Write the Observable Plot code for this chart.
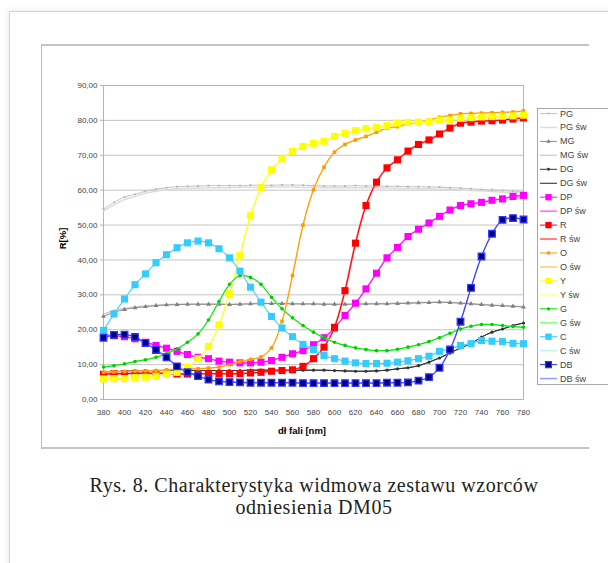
<!DOCTYPE html>
<html>
<head>
<meta charset="utf-8">
<script src="https://cdn.jsdelivr.net/npm/d3@7"></script>
<script src="https://cdn.jsdelivr.net/npm/@observablehq/plot@0.6"></script>
<style>
  html, body { margin: 0; padding: 0; background: #fff; }
  #page { position: relative; width: 608px; height: 563px; overflow: hidden; font-family: "Liberation Sans", Arial, sans-serif; }
  #outer { position: absolute; left: 9px; top: 11px; width: 620px; height: 580px; border-left: 1px solid #d4d4d4; border-top: 1px solid #d4d4d4; box-shadow: -2px -2px 4px rgba(0,0,0,0.06); }
  #inner { position: absolute; left: 41px; top: 44px; width: 547px; height: 401px; border-left: 1px solid #bdbdbd; border-top: 2px solid #c4c4c4; border-bottom: 2px solid #c4c4c4; }
  #plot { position: absolute; left: 0; top: 0; }
  #legend { position: absolute; left: 537px; top: 108px; }
  .axtitle { position: absolute; font-weight: bold; font-size: 9.5px; color: #000; }
  #caption { position: absolute; left: 0; width: 628px; top: 474px; text-align: center; font-family: "Liberation Serif", "Times New Roman", serif; font-size: 20px; letter-spacing: 0.55px; line-height: 22px; color: #222; }
</style>
</head>
<body>
<div id="page">
  <div id="outer"></div>
  <div id="inner"></div>
  <div id="plot"></div>
  <div class="axtitle" style="left:278px; top:425px;">dł fali [nm]</div>
  <div class="axtitle" style="left:52px; top:233px; transform: rotate(-90deg); transform-origin: 50% 50%;">R[%]</div>
  <div id="legend"></div>
  <div id="caption">Rys. 8. Charakterystyka widmowa zestawu wzorców<br>odniesienia DM05</div>
</div>
<script>
// wavelength categories (nm)
const wavelengths = [380,390,400,410,420,430,440,450,460,470,480,490,500,510,520,530,540,550,560,570,580,590,600,610,620,630,640,650,660,670,680,690,700,710,720,730,740,750,760,770,780];
const xTicks = [380,400,420,440,460,480,500,520,540,560,580,600,620,640,660,680,700,720,740,760,780];
const yTicks = [0,10,20,30,40,50,60,70,80,90];

// measured reflectance R[%]
const PG = [54.6,56.5,58.0,58.8,59.7,60.3,60.7,61.0,61.1,61.2,61.3,61.3,61.3,61.3,61.4,61.4,61.4,61.5,61.5,61.4,61.3,61.2,61.2,61.2,61.3,61.2,61.2,61.1,61.1,61.0,61.0,60.9,60.9,60.7,60.6,60.4,60.2,60.1,59.9,59.7,59.5];
const PG_sw = [54.0,55.8,57.3,58.2,59.1,59.7,60.1,60.4,60.5,60.6,60.7,60.7,60.7,60.8,60.8,60.8,60.9,60.9,60.9,60.8,60.8,60.7,60.7,60.7,60.7,60.7,60.6,60.6,60.5,60.5,60.4,60.4,60.3,60.2,60.1,59.9,59.8,59.6,59.4,59.3,59.1];
const MG = [23.8,25.0,25.8,26.3,26.6,26.9,27.1,27.2,27.3,27.3,27.3,27.3,27.2,27.3,27.4,27.5,27.5,27.5,27.4,27.4,27.4,27.3,27.3,27.3,27.3,27.4,27.4,27.4,27.5,27.6,27.7,27.8,27.9,27.8,27.6,27.4,27.2,27.0,26.9,26.7,26.5];
const MG_sw = [24.4,25.5,26.1,26.5,26.8,27.0,27.2,27.3,27.3,27.4,27.4,27.4,27.3,27.4,27.5,27.5,27.6,27.5,27.5,27.4,27.4,27.4,27.3,27.3,27.4,27.4,27.5,27.5,27.6,27.7,27.8,27.8,27.9,27.8,27.7,27.5,27.3,27.1,26.9,26.8,26.6];
const DG = [7.8,8.0,8.1,8.2,8.3,8.3,8.3,8.3,8.3,8.3,8.3,8.3,8.3,8.3,8.4,8.4,8.4,8.4,8.4,8.4,8.4,8.4,8.3,8.2,8.1,8.1,8.2,8.4,8.8,9.1,9.7,10.7,11.9,13.3,14.8,16.0,17.9,19.3,20.2,21.2,21.9];
const DP = [18.5,18.3,18.0,17.4,16.4,15.5,14.7,13.8,12.9,12.1,11.7,11.0,10.7,10.5,10.5,10.7,11.2,12.1,13.1,14.0,15.7,17.7,20.5,24.1,27.6,31.7,36.2,40.6,43.6,46.7,48.8,50.6,52.5,54.3,55.6,56.1,56.5,57.1,57.5,58.2,58.5];
const R = [7.2,7.4,7.4,7.5,7.5,7.5,7.5,7.3,7.3,7.3,7.4,7.4,7.4,7.4,7.6,7.8,8.1,8.3,8.5,9.5,11.7,15.0,20.7,31.2,44.8,55.6,62.3,66.4,68.7,71.2,73.1,74.4,76.1,77.8,79.2,79.5,79.8,79.9,80.1,80.4,80.7];
const O = [7.8,7.9,8.0,8.1,8.2,8.3,8.5,8.6,8.7,8.8,9.0,9.3,10.0,10.8,11.5,12.2,14.8,22.4,35.5,50.0,60.1,66.6,70.9,73.1,74.4,75.4,76.6,77.8,78.2,79.0,79.5,80.1,80.9,81.4,81.9,82.0,82.1,82.2,82.3,82.4,82.7];
const Y = [5.9,6.0,6.0,6.3,6.4,6.7,7.2,7.8,9.3,11.7,15.2,21.4,30.3,41.3,52.7,60.7,65.8,69.0,71.1,72.5,73.4,74.0,75.4,76.3,77.1,77.6,78.0,78.5,79.2,79.4,79.5,79.6,80.1,80.1,80.6,80.8,81.0,81.1,81.2,81.3,81.5];
const G = [9.3,9.7,10.2,10.9,11.4,12.1,13.1,14.5,16.4,18.8,22.8,28.1,33.0,35.5,35.0,33.0,29.3,26.0,23.4,21.2,19.3,17.7,16.4,15.5,14.8,14.3,14.0,14.0,14.4,15.0,15.7,16.6,17.7,19.0,20.2,21.0,21.5,21.5,21.2,20.9,20.7];
const C = [19.8,24.5,28.8,32.9,36.0,39.2,41.5,43.5,44.9,45.4,44.9,43.2,40.6,36.8,32.2,27.9,23.8,20.5,18.0,15.8,14.3,12.6,11.7,11.0,10.5,10.3,10.3,10.4,10.7,11.1,11.7,12.4,13.8,14.5,15.5,16.0,16.9,16.7,16.6,16.1,16.0];
const DB = [17.7,18.5,18.6,17.9,16.2,14.2,12.1,9.5,7.8,6.7,5.7,5.2,5.0,4.9,4.8,4.8,4.8,4.8,4.8,4.7,4.7,4.7,4.7,4.7,4.7,4.7,4.7,4.8,4.8,4.9,5.4,6.4,9.1,14.3,22.3,32.0,41.0,47.5,51.5,52.0,51.6];

// certificate ("św") curves coincide with measured ones except where visibly offset
const DG_sw = DG, DP_sw = DP, R_sw = R, O_sw = O, Y_sw = Y, G_sw = G, C_sw = C, DB_sw = DB;

const seriesNames = ["PG","MG","DG","DP","R","O","Y","G","C","DB"];
const measured = [PG, MG, DG, DP, R, O, Y, G, C, DB];
const certified = [PG_sw, MG_sw, DG_sw, DP_sw, R_sw, O_sw, Y_sw, G_sw, C_sw, DB_sw];

// styles
const lineColors = ["#c4c4c4","#8c8c8c","#333333","#ff00ff","#ff0000","#ff9900","#ffff00","#00dd00","#33ccff","#3333ff"];
const swColors   = ["#dcdcdc","#cfcfcf","#222222","#ff66ff","#ff8080","#ffcc66","#ffff99","#88ff88","#bff0f5","#9999ff"];
const swWidths   = [1.5,1.5,1,1.5,2,1.5,1.5,1.5,1.5,1.5];
const symbols    = ["square","triangle","circle","square","square","square","square","circle","square","square"];
const symR       = [1.1,1.8,1.6,4.0,4.0,2.0,4.0,1.8,4.0,3.7];
const symFill    = ["#b8b8b8","#808080","#333333","#ff00ff","#ff0000","#ff9900","#ffff00","#00cc00","#33ccff","#000080"];
const symStroke  = ["none","none","none","none","none","none","none","none","none","#3333ff"];

const marks = [
  Plot.gridY(yTicks, {stroke: "#c4c4c4", strokeOpacity: 1}),
  Plot.frame({stroke: "#b4b4b4"})
];
seriesNames.forEach((name, i) => {
  const rowsM = wavelengths.map((w, j) => ({x: w, y: measured[i][j]}));
  const rowsS = wavelengths.map((w, j) => ({x: w, y: certified[i][j]}));
  marks.push(Plot.line(rowsS, {x: "x", y: "y", stroke: swColors[i], strokeWidth: swWidths[i], curve: "catmull-rom"}));
  marks.push(Plot.line(rowsM, {x: "x", y: "y", stroke: lineColors[i], strokeWidth: 1, curve: "catmull-rom"}));
  marks.push(Plot.dot(rowsM, {x: "x", y: "y", symbol: () => symbols[i], r: symR[i], fill: symFill[i], stroke: symStroke[i], strokeWidth: 1.3}));
});
const fmt = d => d3.format(".2f")(d).replace(".", ",");
marks.push(Plot.axisY(yTicks, {tickFormat: fmt, tickSize: 3, tickPadding: 3, fontSize: 8, color: "#444", stroke: "#b4b4b4", label: null}));
marks.push(Plot.axisX(xTicks, {tickSize: 0, tickPadding: 10, fontSize: 8, color: "#444", label: null}));

const chart = Plot.plot({
  width: 608, height: 450,
  marginLeft: 103, marginRight: 85, marginTop: 85, marginBottom: 51,
  x: {domain: [380, 780]},
  y: {domain: [0, 90]},
  style: {background: "transparent", fontFamily: "Liberation Sans, Arial, sans-serif"},
  marks
});
document.getElementById("plot").appendChild(chart);

// legend
const legendLabels = [];
seriesNames.forEach(n => { legendLabels.push(n); legendLabels.push(n + " św"); });
const lg = d3.select("#legend").append("svg").attr("width", 71).attr("height", 277)
  .style("font-family", "Liberation Sans, Arial, sans-serif");
lg.append("rect").attr("x", 0.5).attr("y", 0.5).attr("width", 80).attr("height", 276)
  .attr("fill", "#fff").attr("stroke", "#a8a8a8");
const symMap = {square: d3.symbolSquare, triangle: d3.symbolTriangle, circle: d3.symbolCircle};
legendLabels.forEach((lab, k) => {
  const i = Math.floor(k / 2), sw = k % 2 === 1;
  const yy = 5.5 + k * 13.95;
  lg.append("line").attr("x1", 3).attr("x2", 20).attr("y1", yy).attr("y2", yy)
    .attr("stroke", sw ? swColors[i] : lineColors[i]).attr("stroke-width", sw ? swWidths[i] : 1);
  if (!sw) {
    lg.append("path").attr("transform", `translate(11.5,${yy})`)
      .attr("d", d3.symbol(symMap[symbols[i]], symR[i] * symR[i] * Math.PI * 0.8)())
      .attr("fill", symFill[i]).attr("stroke", symStroke[i]).attr("stroke-width", 1.2);
  }
  lg.append("text").attr("x", 23).attr("y", yy + 3).attr("font-size", 9).attr("fill", "#444").text(lab);
});
</script>
</body>
</html>
